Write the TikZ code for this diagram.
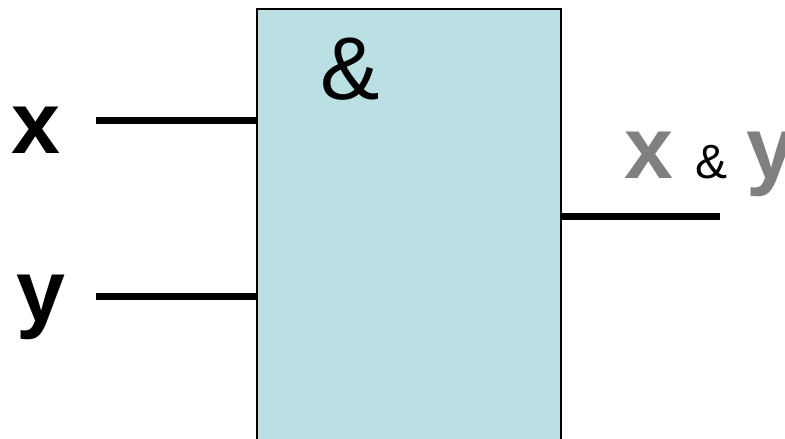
\documentclass[tikz,border=0pt]{standalone}
\usepackage{fontspec}
\setmainfont{Liberation Sans}
\definecolor{gatefill}{HTML}{BBE0E3}
\definecolor{outgray}{HTML}{808080}
\begin{document}
\begin{tikzpicture}[x=1pt,y=-1pt,
  gatebox/.style={draw=black,line width=2.2pt,fill=gatefill,rectangle,inner sep=0pt},
  wire/.style={line width=7pt},
  biglbl/.style={font=\fontsize{88}{88}\selectfont\bfseries,inner sep=0pt,anchor=base},
  amplbl/.style={font=\fontsize{89}{89}\selectfont,inner sep=0pt,anchor=base},
  smallamp/.style={font=\fontsize{48}{48}\selectfont,inner sep=0pt,anchor=base}]
  \useasboundingbox (0,0) rectangle (785,439);
  \clip (0,0) rectangle (785,439);
  % AND gate body (runs past the lower edge)
  \path (256,8) coordinate (gtl);
  \node[gatebox,minimum width=304pt,minimum height=452pt,anchor=north west] (gate) at (gtl) {};
  \node[amplbl] (sym) at (350,99) {\&};
  % inputs and output
  \coordinate (xin) at (96,120);
  \coordinate (yin) at (96,296);
  \coordinate (qout) at (720,216);
  \draw[wire] (xin) -- (xin -| gate.west);
  \draw[wire] (yin) -- (yin -| gate.west);
  \draw[wire] (qout -| gate.east) -- (qout);
  \node[biglbl] (xl) at (35.5,153) {x};
  \node[biglbl] (yl) at (40.5,321) {y};
  % output expression
  \node[biglbl,text=outgray] (ox) at (648.5,178) {x};
  \node[smallamp] (oa) at (712,178) {\&};
  \node[biglbl,text=outgray] (oy) at (771,178) {y};
\end{tikzpicture}
\end{document}
